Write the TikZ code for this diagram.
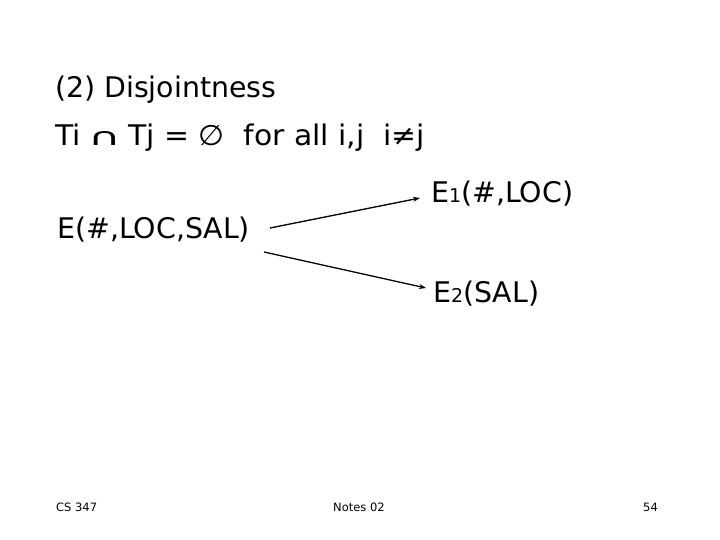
\documentclass[tikz,border=0pt]{standalone}
\usepackage{fontspec}
\setmainfont{DejaVu Sans}
\usetikzlibrary{arrows.meta}
\tikzset{
  txt/.style={anchor=base west, inner sep=0pt, font=\fontsize{28.4}{32}\selectfont},
  foot/.style={anchor=base west, inner sep=0pt, font=\fontsize{11.5}{13}\selectfont},
  arr/.style={line width=1.3pt, -{Stealth[length=7pt,width=5pt]}}
}
\newcommand{\smallsub}[1]{{\fontsize{19}{20}\selectfont #1}}
\begin{document}
\begin{tikzpicture}[x=1pt,y=-1pt]
\useasboundingbox (0,0) rectangle (720,540);
\node[txt] (title) at (55,98) {(2) Disjointness};
\node[txt] (rule) at (55,146) {\scalebox{1.05}[1]{Ti\hspace{7pt}\scalebox{1.5}[0.85]{∩}\hspace{7pt}Tj = ∅\ \ for all i,j\ \ i≠j}};
\node[txt] (E) at (57,238) {E(\#,LOC,SAL)};
\node[txt] (E1) at (431,203) {E\smallsub{1}(\#,LOC)};
\node[txt] (E2) at (433,302) {E\smallsub{2}(SAL)};
\coordinate (a1s) at (270,228);
\coordinate (a1e) at (420,198);
\coordinate (a2s) at (264,252);
\coordinate (a2e) at (426,288);
\draw[arr] (a1s) -- (a1e);
\draw[arr] (a2s) -- (a2e);
\node[foot] (cs) at (56,511) {CS 347};
\node[foot] (notes) at (333,511) {Notes 02};
\node[foot] (pg) at (643,511) {54};
\end{tikzpicture}
\end{document}
